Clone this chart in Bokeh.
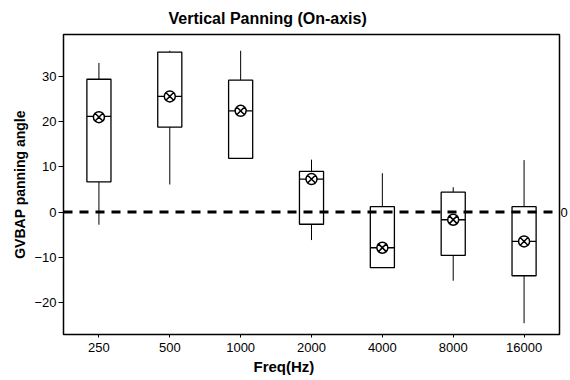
from bokeh.plotting import figure
from bokeh.models import ColumnDataSource, Span, LinearAxis, FixedTicker, Title, Range1d
from bokeh.embed import file_html
from bokeh.resources import INLINE

freqs = ["250", "500", "1000", "2000", "4000", "8000", "16000"]
whisk_low = [-2.8, 6.1, 11.9, -6.2, -12.3, -15.2, -24.6]
q1 = [6.7, 18.8, 11.9, -2.7, -12.3, -9.6, -14.1]
median = [21.2, 25.6, 22.4, 7.3, -7.9, -1.7, -6.5]
q3 = [29.4, 35.4, 29.2, 9.0, 1.2, 4.4, 1.2]
whisk_high = [33.0, 35.7, 35.7, 11.6, 8.6, 5.5, 11.5]
mean = [21.0, 25.6, 22.4, 7.3, -7.9, -1.7, -6.5]

src = ColumnDataSource(dict(f=freqs, lo=whisk_low, q1=q1, med=median,
                            q3=q3, hi=whisk_high, mean=mean))

FONT = "Liberation Sans"

p = figure(x_range=freqs, y_range=Range1d(-27.1, 39.3), width=570, height=380,
           output_backend="svg", toolbar_location=None,
           min_border_left=63, min_border_right=10, min_border_top=34,
           min_border_bottom=46)
p.title = Title(text="Vertical Panning (On-axis)", align="left", offset=105,
                text_font=FONT, text_font_size="16px", text_font_style="bold",
                text_color="black", standoff=15)

p.xgrid.visible = False
p.ygrid.visible = False
p.outline_line_color = "black"
p.outline_line_width = 1.5
p.background_fill_color = "white"

# whiskers
p.segment(x0="f", y0="lo", x1="f", y1="q1", source=src, line_color="black", line_width=1)
p.segment(x0="f", y0="q3", x1="f", y1="hi", source=src, line_color="black", line_width=1)
# boxes
p.vbar(x="f", bottom="q1", top="q3", width=0.34, source=src,
       fill_color="white", line_color="black", line_width=1.3)
# medians
p.vbar(x="f", bottom="med", top="med", width=0.34, source=src,
       fill_color=None, line_color="black", line_width=1.3)

# zero reference
p.add_layout(Span(location=0, dimension="width", line_color="black",
                  line_width=3, line_dash="9 7"))

# means
p.scatter(x="f", y="mean", source=src, marker="circle_x", size=11,
          fill_color="white", line_color="black", line_width=1.5)

p.yaxis.ticker = FixedTicker(ticks=[-20, -10, 0, 10, 20, 30])
p.yaxis.axis_label = "GVBAP panning angle"
p.yaxis.axis_label_text_font = FONT
p.yaxis.axis_label_text_font_size = "14px"
p.yaxis.axis_label_text_font_style = "bold"
p.yaxis.axis_label_text_color = "black"
p.yaxis.axis_label_standoff = 3
p.yaxis.major_tick_in = 0
p.yaxis.major_tick_out = 5
p.yaxis.minor_tick_line_color = None
p.yaxis.major_label_standoff = 2

p.xaxis.major_tick_in = 0
p.xaxis.major_tick_out = 3
p.xaxis.major_label_standoff = 5

for ax in (p.xaxis[0], p.yaxis[0]):
    ax.major_label_text_font = FONT
    ax.major_label_text_font_size = "13px"
    ax.major_label_text_color = "black"
    ax.axis_line_color = "black"
    ax.major_tick_line_color = "black"

p.add_layout(Title(text="Freq(Hz)", align="left", offset=190, text_font=FONT,
                   text_font_size="15px", text_font_style="bold",
                   text_color="black", standoff=2), "below")

right = LinearAxis(ticker=FixedTicker(ticks=[0]), major_tick_out=0, major_tick_in=0,
                   minor_tick_line_color=None, axis_line_color=None,
                   major_label_standoff=1, major_label_text_font=FONT,
                   major_label_text_font_size="13px", major_label_text_color="black")
p.add_layout(right, "right")

open("out.html", "w").write(file_html(p, INLINE))
